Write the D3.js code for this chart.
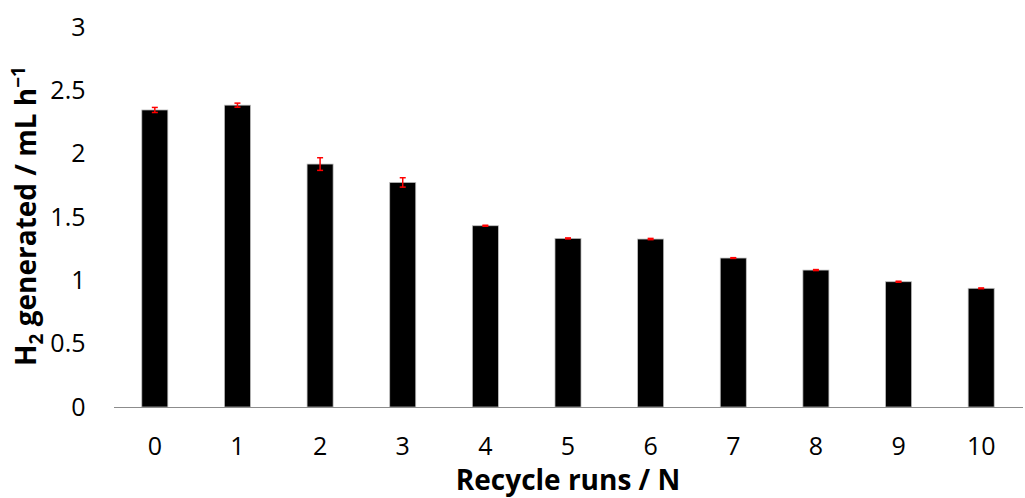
<!DOCTYPE html>
<html>
<head>
<meta charset="utf-8">
<script src="https://cdn.jsdelivr.net/npm/d3@7"></script>
<style>
body { margin: 0; background: #fff; }
svg { display: block; font-family: "Open Sans", sans-serif; }
</style>
</head>
<body>
<div id="chart"></div>
<script>
var width = 1025,
	height = 498;

// data
var runs = ['0', '1', '2', '3', '4', '5', '6', '7', '8', '9', '10'];
var h2Rate = [2.345, 2.383, 1.918, 1.773, 1.431, 1.331, 1.326, 1.176, 1.081, 0.989, 0.937];
var h2Err = [0.02, 0.016, 0.05, 0.037, 0.004, 0.004, 0.005, 0.003, 0.004, 0.004, 0.003];
var yTicks = [0, 0.5, 1, 1.5, 2, 2.5, 3];

var margin = {left: 113.5, right: 2.5, top: 27, bottom: 91};

var svg = d3.select('#chart').append('svg')
	.attr('width', width)
	.attr('height', height);

var x = d3.scaleBand()
	.domain(runs)
	.range([margin.left, width - margin.right])
	.paddingInner(0.685)
	.paddingOuter(0.3425);

var y = d3.scaleLinear()
	.domain([0, 3])
	.range([height - margin.bottom, margin.top]);

// y tick labels (no axis line, no ticks)
var yAxis = svg.append('g')
	.attr('transform', 'translate(' + margin.left + ',0)')
	.call(d3.axisLeft(y).tickValues(yTicks).tickSize(0).tickPadding(28)
		.tickFormat(function(d) { return String(d); }));
yAxis.select('.domain').remove();
yAxis.selectAll('text')
	.style('font-family', '"Open Sans", sans-serif')
	.style('font-size', '25px')
	.attr('fill', '#000');

// bars
svg.append('g')
	.selectAll('rect')
	.data(runs)
	.enter()
	.append('rect')
	.attr('x', function(d) { return x(d); })
	.attr('y', function(d, i) { return y(h2Rate[i]); })
	.attr('width', x.bandwidth())
	.attr('height', function(d, i) { return y(0) - y(h2Rate[i]); })
	.style('fill', '#000')
	.style('stroke', '#bfbfbf')
	.style('stroke-width', 0.75);

// x axis
var xAxis = svg.append('g')
	.attr('transform', 'translate(0,' + y(0) + ')')
	.call(d3.axisBottom(x).tickSize(0).tickPadding(30));
xAxis.select('.domain')
	.attr('stroke', '#8c8c8c')
	.attr('stroke-width', 1.2);
xAxis.selectAll('text')
	.style('font-family', '"Open Sans", sans-serif')
	.style('font-size', '25px')
	.attr('fill', '#000');

// error bars
var err = svg.append('g')
	.style('stroke', '#ff0000')
	.style('stroke-width', 1.5);

runs.forEach(function(d, i) {
	var cx = x(d) + x.bandwidth() / 2;
	var top = y(h2Rate[i] + h2Err[i]),
		bot = y(h2Rate[i] - h2Err[i]);
	err.append('line').attr('x1', cx).attr('x2', cx).attr('y1', top).attr('y2', bot);
	err.append('line').attr('x1', cx - 3).attr('x2', cx + 3).attr('y1', top).attr('y2', top);
	err.append('line').attr('x1', cx - 3).attr('x2', cx + 3).attr('y1', bot).attr('y2', bot);
});

// axis titles
svg.append('text')
	.attr('x', (margin.left + width - margin.right) / 2)
	.attr('y', 490)
	.attr('text-anchor', 'middle')
	.style('font-weight', 'bold')
	.style('font-size', '28px')
	.text('Recycle runs / N');

var ylab = svg.append('text')
	.attr('transform', 'translate(36,' + 216 + ') rotate(-90)')
	.attr('text-anchor', 'middle')
	.style('font-weight', 'bold')
	.style('font-size', '28px');
ylab.append('tspan').text('H');
ylab.append('tspan').attr('dy', 7).style('font-size', '19px').text('2');
ylab.append('tspan').attr('dy', -7).text(' generated / mL h');
ylab.append('tspan').attr('dy', -11).style('font-size', '19px').text('\u22121');
</script>
</body>
</html>
